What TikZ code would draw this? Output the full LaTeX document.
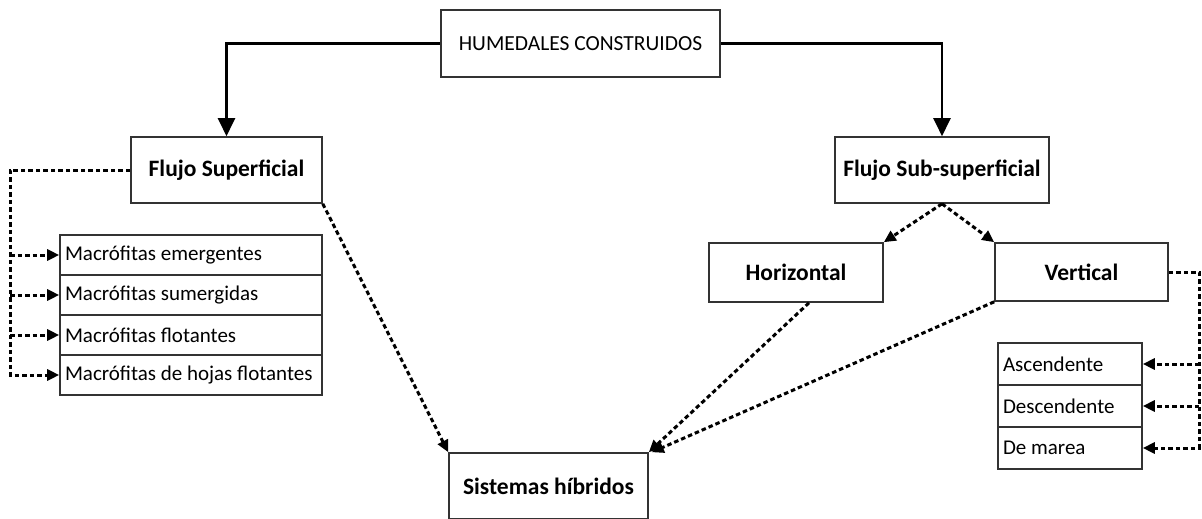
\documentclass[tikz,border=0pt]{standalone}
\usepackage{fontspec}
\setmainfont{Carlito}
\usetikzlibrary{arrows.meta}

\begin{document}
\begin{tikzpicture}[x=1pt, y=-1pt,
    caja/.style={draw=black!80, line width=1.6pt, inner sep=0pt, font=\fontsize{23.5}{27}\selectfont\bfseries},
    fila/.style={draw=black!80, line width=1.6pt, inner xsep=5pt, inner ysep=0pt, align=flush left, font=\fontsize{21}{25}\selectfont},
    flecha/.style={line width=2.3pt, -{Triangle[length=18pt, width=17pt]}},
    punteada/.style={line width=3pt, dash pattern=on 4.5pt off 3pt, -{Triangle[length=12pt, width=11pt]}}]
    \useasboundingbox (0,0) rectangle (1202,519);

    % cajas principales
    \node (hc) at (580.5,43.5) [caja, minimum width=279pt, minimum height=67pt, font=\fontsize{21.5}{25}\selectfont] {HUMEDALES CONSTRUIDOS};
    \node (fs) at (226.5,170) [caja, minimum width=191pt, minimum height=66pt] {Flujo Superficial};
    \node (fss) at (942,170) [caja, minimum width=214pt, minimum height=66pt] {Flujo Sub-superficial};
    \node (hor) at (796,272.5) [caja, minimum width=174pt, minimum height=59pt] {Horizontal};
    \node (ver) at (1081.5,272) [caja, minimum width=173pt, minimum height=58pt] {Vertical};
    \node (sh) at (548.5,486) [caja, minimum width=199pt, minimum height=66pt] {Sistemas híbridos};

    % macrofitas
    \node (m1) at (191,255) [fila, text width=252pt, minimum height=40pt] {Macrófitas emergentes};
    \node (m2) at (191,295) [fila, text width=252pt, minimum height=40pt] {Macrófitas sumergidas};
    \node (m3) at (191,335) [fila, text width=252pt, minimum height=40pt] {Macrófitas flotantes};
    \node (m4) at (191,375) [fila, text width=252pt, minimum height=40pt] {Macrófitas de hojas flotantes};

    % flujo vertical
    \node (d1) at (1070,364) [fila, text width=134pt, minimum height=42pt] {Ascendente};
    \node (d2) at (1070,406) [fila, text width=134pt, minimum height=42pt] {Descendente};
    \node (d3) at (1070,448) [fila, text width=134pt, minimum height=42pt] {De marea};

    \coordinate (bi) at (10,170);
    \coordinate (bd) at (1199,272);

    \draw[flecha] (hc.west) -| (fs.north);
    \draw[flecha] (hc.east) -| (fss.north);

    \draw[punteada] (fs.west) -| (m4.west -| bi) -- (m4.west);
    \draw[punteada] (m1.west -| bi) -- (m1.west);
    \draw[punteada] (m2.west -| bi) -- (m2.west);
    \draw[punteada] (m3.west -| bi) -- (m3.west);

    \draw[punteada] (ver.east) -| (d3.east -| bd) -- (d3.east);
    \draw[punteada] (d1.east -| bd) -- (d1.east);
    \draw[punteada] (d2.east -| bd) -- (d2.east);

    \draw[punteada] (fss.south) -- (hor.north east);
    \draw[punteada] (fss.south) -- (ver.north west);
    \draw[punteada] (fs.south east) -- (sh.north west);
    \draw[punteada] ([xshift=13pt]hor.south) -- (sh.north east);
    \draw[punteada] (ver.south west) -- ([xshift=3pt]sh.north east);
\end{tikzpicture}
\end{document}
